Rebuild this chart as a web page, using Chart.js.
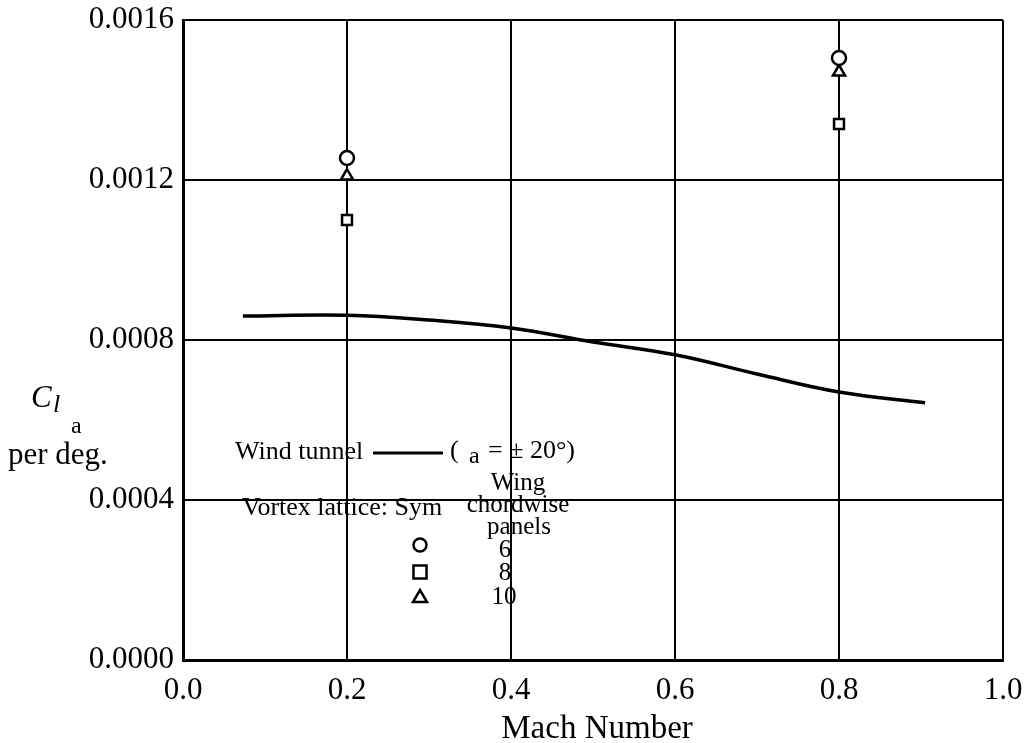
<!DOCTYPE html>
<html>
<head>
<meta charset="utf-8">
<script src="https://cdn.jsdelivr.net/npm/chart.js@4.4.0/dist/chart.umd.min.js"></script>
<style>
  html, body { margin: 0; padding: 0; background: #fff; }
  #wrap { width: 1027px; height: 743px; }
</style>
</head>
<body>
<div id="wrap"><canvas id="myChart" width="1027" height="743"></canvas></div>
<script>
// wind tunnel curve (a = +/- 20 deg)
const tunnelMach = [0.073, 0.2, 0.3, 0.4, 0.5, 0.6, 0.7, 0.8, 0.905];
const tunnelCl = [0.00086, 0.000862, 0.00085, 0.00083, 0.000795, 0.000763, 0.000715, 0.00067, 0.000643];

// vortex lattice results by chordwise panels
const latticeMach = [0.2, 0.8];
const panels6 = [0.001255, 0.001505];
const panels8 = [0.0011, 0.00134];
const panels10 = [0.00121, 0.00147];

const xTicks = [0.0, 0.2, 0.4, 0.6, 0.8, 1.0];
const yTicks = [0.0, 0.0004, 0.0008, 0.0012, 0.0016];

const serif = "'Liberation Serif', 'Times New Roman', serif";

const toPoints = (xs, ys) => xs.map((x, i) => ({ x: x, y: ys[i] }));

const symbolDataset = (label, values, style) => ({
  label: label,
  data: toPoints(latticeMach, values),
  showLine: false,
  pointStyle: style,
  pointRadius: 7,
  pointBackgroundColor: "#fff",
  pointBorderColor: "#000",
  pointBorderWidth: 2.5
});

function drawSymbol(ctx, style, x, y) {
  ctx.save();
  ctx.fillStyle = "#fff";
  ctx.strokeStyle = "#000";
  ctx.lineWidth = 2.5;
  ctx.beginPath();
  if (style === "circle") {
    ctx.arc(x, y, 6.5, 0, Math.PI * 2);
  } else if (style === "rect") {
    ctx.rect(x - 6.5, y - 6.5, 13, 13);
  } else {
    ctx.moveTo(x, y - 7);
    ctx.lineTo(x + 7, y + 5);
    ctx.lineTo(x - 7, y + 5);
    ctx.closePath();
  }
  ctx.fill();
  ctx.stroke();
  ctx.restore();
}

const notes = {
  id: "notes",
  afterDraw(chart) {
    const ctx = chart.ctx;
    ctx.save();
    ctx.fillStyle = "#000";
    ctx.textBaseline = "middle";

    // axis titles
    ctx.textAlign = "center";
    ctx.font = "33px " + serif;
    ctx.fillText("Mach Number", 597, 729);

    ctx.textAlign = "left";
    ctx.font = "italic 31px " + serif;
    ctx.fillText("C", 31, 399);
    ctx.font = "italic 26px " + serif;
    ctx.fillText("l", 53, 405);
    ctx.font = "24px " + serif;
    ctx.fillText("a", 71, 427);
    ctx.font = "31px " + serif;
    ctx.fillText("per deg.", 8, 456);

    // key
    ctx.font = "26px " + serif;
    ctx.fillText("Wind tunnel", 235, 452);
    ctx.beginPath();
    ctx.lineWidth = 3;
    ctx.moveTo(373, 453);
    ctx.lineTo(443, 453);
    ctx.stroke();
    ctx.fillText("(", 450, 451);
    ctx.font = "24px " + serif;
    ctx.fillText("a", 469, 457);
    ctx.font = "26px " + serif;
    ctx.fillText("= \u00b1 20\u00b0)", 488, 451);

    ctx.fillText("Vortex lattice: Sym", 242, 508);
    ctx.textAlign = "center";
    ctx.font = "25px " + serif;
    ctx.fillText("Wing", 518, 483);
    ctx.fillText("chordwise", 518, 505);
    ctx.fillText("panels", 519, 527);
    ctx.fillText("6", 505, 550);
    ctx.fillText("8", 505, 573);
    ctx.fillText("10", 504, 597);

    drawSymbol(ctx, "circle", 420, 545);
    drawSymbol(ctx, "rect", 420, 572);
    drawSymbol(ctx, "triangle", 420, 597);
    ctx.restore();
  }
};

const config = {
  type: "scatter",
  data: {
    datasets: [
      {
        label: "Wind tunnel",
        data: toPoints(tunnelMach, tunnelCl),
        showLine: true,
        borderColor: "#000",
        borderWidth: 3.5,
        tension: 0.4,
        pointRadius: 0
      },
      symbolDataset("6", panels6, "circle"),
      symbolDataset("10", panels10, "triangle"),
      symbolDataset("8", panels8, "rect")
    ]
  },
  options: {
    responsive: false,
    animation: false,
    layout: { padding: { left: 0, right: 24, top: 20, bottom: 0 } },
    plugins: { legend: { display: false }, tooltip: { enabled: false } },
    scales: {
      x: {
        type: "linear",
        min: 0,
        max: 1,
        afterBuildTicks: (s) => { s.ticks = xTicks.map((v) => ({ value: v })); },
        afterFit: (s) => {
          s.height = 83;
          s.paddingLeft = 0;
          s.paddingRight = 0;
        },
        grid: { color: "#000", lineWidth: 2, drawTicks: false },
        border: { color: "#000", width: 3 },
        ticks: {
          color: "#000",
          padding: 12,
          maxRotation: 0,
          font: { family: serif, size: 31 },
          callback: (v) => v.toFixed(1)
        }
      },
      y: {
        type: "linear",
        min: 0,
        max: 0.0016,
        afterBuildTicks: (s) => { s.ticks = yTicks.map((v) => ({ value: v })); },
        afterFit: (s) => {
          s.width = 183;
          s.paddingTop = 0;
          s.paddingBottom = 0;
        },
        grid: { color: "#000", lineWidth: 2, drawTicks: false },
        border: { color: "#000", width: 3 },
        ticks: {
          color: "#000",
          padding: 9,
          font: { family: serif, size: 31 },
          callback: (v) => v.toFixed(4)
        }
      }
    }
  },
  plugins: [notes]
};

new Chart(document.getElementById("myChart"), config);
</script>
</body>
</html>
